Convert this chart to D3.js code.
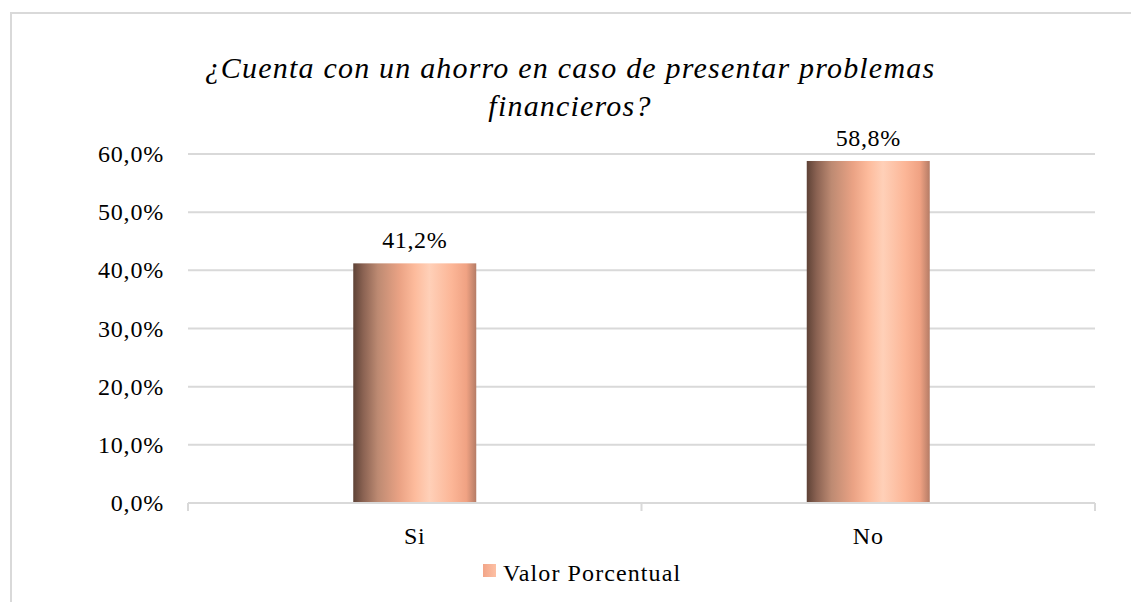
<!DOCTYPE html>
<html><head><meta charset="utf-8">
<script src="https://cdn.jsdelivr.net/npm/d3@7"></script>
<style>body{margin:0;background:#fff}svg{display:block}</style>
</head><body><svg id="c" width="1131" height="602"></svg>
<script>
const categories = ["Si", "No"];
const values = [41.2, 58.8];
const yTicks = [0, 10, 20, 30, 40, 50, 60];
const titleLines = ["¿Cuenta con un ahorro en caso de presentar problemas", "financieros?"];
const seriesName = "Valor Porcentual";

const FONT = "'Liberation Serif', 'Times New Roman', serif";
const svg = d3.select("#c");
const fmt = v => v.toFixed(1).replace(".", ",") + "%";

// outer border
svg.append("path").attr("d", "M11,602 V13 H1131").attr("fill", "none").attr("stroke", "#d9d9d9").attr("stroke-width", 2);

const x0 = 188, x1 = 1095, yTop = 154, yBot = 503;
const x = d3.scaleBand().domain(categories).range([x0, x1]);
const y = d3.scaleLinear().domain([0, 60]).range([yBot, yTop]);

const defs = svg.append("defs");
const g = defs.append("linearGradient").attr("id", "bg").attr("x1", "0").attr("x2", "1").attr("y1", "0").attr("y2", "0");
[[0, "#5e4236"], [0.08, "#8a6252"], [0.2, "#bd8a72"], [0.38, "#eba385"], [0.5, "#fdbb9c"], [0.62, "#ffd0b8"], [0.8, "#fcb697"], [0.92, "#f0a283"], [1, "#b57c66"]]
  .forEach(([o, c]) => g.append("stop").attr("offset", o).attr("stop-color", c));

// gridlines
svg.append("g").selectAll("line").data(yTicks.filter(t => t > 0)).join("line")
  .attr("x1", x0).attr("x2", x1).attr("y1", d => y(d)).attr("y2", d => y(d))
  .attr("stroke", "#d9d9d9").attr("stroke-width", 2);

// y labels
svg.append("g").selectAll("text").data(yTicks).join("text")
  .attr("x", 164).attr("y", d => y(d) + 8).attr("text-anchor", "end")
  .attr("font-family", FONT).attr("font-size", 24).attr("letter-spacing", 0.8)
  .text(d => fmt(d));

// bars
const bw = 123;
svg.append("g").selectAll("rect").data(values).join("rect")
  .attr("x", (d, i) => x(categories[i]) + x.bandwidth() / 2 - bw / 2)
  .attr("width", bw)
  .attr("y", d => y(d)).attr("height", d => yBot - y(d))
  .attr("fill", "url(#bg)");

// x axis
svg.append("line").attr("x1", x0).attr("x2", x1).attr("y1", yBot).attr("y2", yBot).attr("stroke", "#d9d9d9").attr("stroke-width", 2);
const xt = [x0, x0 + x.bandwidth(), x1];
svg.append("g").selectAll("line").data(xt).join("line")
  .attr("x1", d => d).attr("x2", d => d).attr("y1", yBot).attr("y2", yBot + 8)
  .attr("stroke", "#d9d9d9").attr("stroke-width", 2);

svg.append("g").selectAll("text").data(categories).join("text")
  .attr("x", d => x(d) + x.bandwidth() / 2).attr("y", 544).attr("text-anchor", "middle")
  .attr("font-family", FONT).attr("font-size", 24).attr("letter-spacing", 0.8).text(d => d);

// data labels
svg.append("g").selectAll("text").data(values).join("text")
  .attr("x", (d, i) => x(categories[i]) + x.bandwidth() / 2).attr("y", d => y(d) - 15)
  .attr("text-anchor", "middle").attr("font-family", FONT).attr("font-size", 24).attr("letter-spacing", 0.6)
  .text(d => fmt(d));

// title
svg.append("g").selectAll("text").data(titleLines).join("text")
  .attr("x", 570).attr("y", (d, i) => 78 + i * 38).attr("text-anchor", "middle")
  .attr("font-family", FONT).attr("font-size", 30).attr("font-style", "italic").attr("letter-spacing", 1.2)
  .text(d => d);

// legend
const lg = defs.append("linearGradient").attr("id", "lg").attr("x1", "0").attr("x2", "1");
lg.append("stop").attr("offset", 0).attr("stop-color", "#f2a588");
lg.append("stop").attr("offset", 1).attr("stop-color", "#fdc0a4");
svg.append("rect").attr("x", 483).attr("y", 564).attr("width", 13).attr("height", 13).attr("fill", "url(#lg)");
svg.append("text").attr("x", 503).attr("y", 581).attr("font-family", FONT).attr("font-size", 24).attr("letter-spacing", 1.1).text(seriesName);
</script></body></html>
